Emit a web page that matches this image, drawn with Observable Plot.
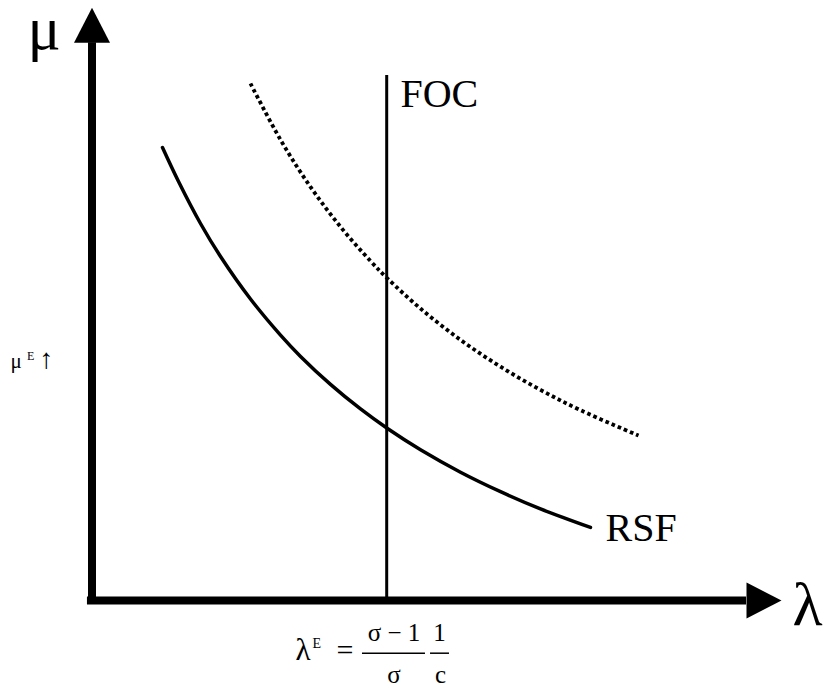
<!DOCTYPE html>
<html>
<head>
<meta charset="utf-8">
<script src="https://cdn.jsdelivr.net/npm/d3@7"></script>
<script src="https://cdn.jsdelivr.net/npm/@observablehq/plot@0.6"></script>
<style>
  html, body { margin: 0; padding: 0; background: #fff; }
  #chart svg { display: block; }
</style>
</head>
<body>
<div id="chart"></div>
<script>
// Curve data (λ, μ), in arbitrary axis units
const rsfLambda = [1.007, 1.236, 1.550, 1.836, 2.264, 2.693, 2.979, 3.407, 3.836, 4.221, 4.693, 5.264, 5.836, 6.407, 7.121];
const rsfMu     = [8.089, 7.482, 6.732, 6.143, 5.384, 4.739, 4.359, 3.859, 3.420, 3.071, 2.691, 2.291, 1.943, 1.636, 1.304];
const shiftedLambda = [2.264, 2.693, 3.121, 3.550, 3.979, 4.221, 4.693, 5.264, 5.836, 6.407, 6.979, 7.807];
const shiftedMu     = [9.232, 8.227, 7.386, 6.673, 6.061, 5.750, 5.213, 4.654, 4.175, 3.761, 3.398, 2.946];
const focLambda = 4.21;
const focTop = 9.375;
const axisLambdaEnd = 9.35;
const axisMuEnd = 9.96;

const rsf = rsfLambda.map((x, i) => ({x, y: rsfMu[i]}));
const shifted = shiftedLambda.map((x, i) => ({x, y: shiftedMu[i]}));

const serif = "Liberation Serif, Times New Roman, serif";
const arrowHead = {
  draw(context) {
    context.moveTo(0, -35);
    context.lineTo(18, 0);
    context.lineTo(-18, 0);
    context.closePath();
  }
};

const txt = (s, x, y, size, anchor = "start") =>
  Plot.text([s], {x: () => x, y: () => y, text: d => d, fontSize: size,
    fontFamily: serif, textAnchor: anchor, lineAnchor: "bottom", fill: "black"});

const chart = Plot.plot({
  width: 826,
  height: 695,
  margin: 0,
  x: {domain: [0, 10], range: [91.5, 791.5], axis: null},
  y: {domain: [0, 10], range: [600, 40], axis: null},
  marks: [
    // axes
    Plot.ruleY([0], {x1: -0.065, x2: axisLambdaEnd, stroke: "black", strokeWidth: 8}),
    Plot.ruleX([0], {y1: -0.07, y2: axisMuEnd, stroke: "black", strokeWidth: 8}),
    Plot.dot([{x: 0, y: axisMuEnd}], {x: "x", y: "y", symbol: arrowHead, fill: "black", stroke: null}),
    Plot.dot([{x: axisLambdaEnd, y: 0}], {x: "x", y: "y", symbol: arrowHead, rotate: 90, fill: "black", stroke: null}),
    // FOC
    Plot.ruleX([focLambda], {y1: 0, y2: focTop, stroke: "black", strokeWidth: 3}),
    // curves
    Plot.line(rsf, {x: "x", y: "y", curve: "catmull-rom", stroke: "black", strokeWidth: 3.5}),
    Plot.line(shifted, {x: "x", y: "y", curve: "catmull-rom", stroke: "black", strokeWidth: 3.8,
      strokeDasharray: "3.6,3", strokeLinecap: "butt"}),
    // labels
    txt("μ", -0.92, 9.857, 62),
    txt("λ", 10.007, -0.446, 62),
    txt("FOC", 4.407, 8.804, 40),
    txt("RSF", 7.336, 1.071, 40),
    txt("μ", -1.164, 4.143, 21),
    txt("E", -0.93, 4.286, 12),
    txt("↑", -0.75, 4.143, 28),
    // λ^E = (σ−1)/σ · 1/c
    txt("λ", 2.907, -1.071, 31),
    txt("E", 3.15, -0.857, 14),
    txt("=", 3.493, -1.071, 30),
    txt("σ − 1", 4.314, -0.732, 25, "middle"),
    txt("1", 4.964, -0.732, 25, "middle"),
    txt("σ", 4.314, -1.482, 25, "middle"),
    txt("c", 4.979, -1.482, 25, "middle"),
    Plot.ruleY([-0.941], {x1: 3.864, x2: 4.764, stroke: "black", strokeWidth: 1.5}),
    Plot.ruleY([-0.941], {x1: 4.836, x2: 5.107, stroke: "black", strokeWidth: 1.5})
  ]
});
document.getElementById("chart").appendChild(chart);
</script>
</body>
</html>
